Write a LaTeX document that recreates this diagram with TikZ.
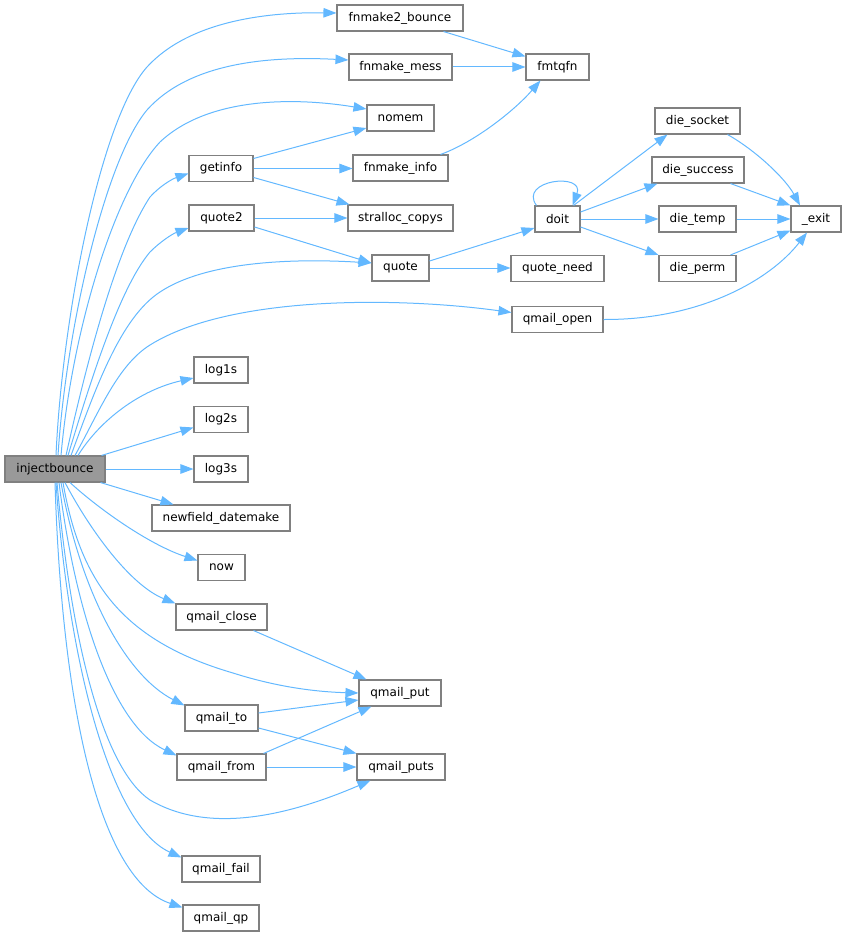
\documentclass[tikz,border=0pt]{standalone}
\usepackage{fontspec}
\setmainfont{DejaVu Sans}
\usetikzlibrary{arrows.meta}
\definecolor{edgeblue}{HTML}{63B8FF}
\definecolor{nodegray}{HTML}{808080}
\definecolor{rootgray}{HTML}{999999}
\tikzset{
  nd/.style={draw=nodegray, fill=white, line width=1.1pt, minimum height=26pt, inner sep=0pt, font=\fontsize{12}{14}\selectfont},
  rootnd/.style={nd, fill=rootgray},
  ed/.style={draw=edgeblue, line width=1pt, -{Triangle[length=13pt,width=9.5pt]}}
}
\begin{document}
\begin{tikzpicture}[x=1pt,y=-1pt]
\useasboundingbox (0,0) rectangle (847,936);
% nodes
\node[rootnd, minimum width=100pt] (inj) at (55,469) {injectbounce};
\node[nd, minimum width=126pt] (fm2) at (400,18) {fnmake2\_bounce};
\node[nd, minimum width=103pt] (fmm) at (400.5,67) {fnmake\_mess};
\node[nd, minimum width=63pt] (fmt) at (557.5,67) {fmtqfn};
\node[nd, minimum width=67pt] (nomem) at (400.5,118) {nomem};
\node[nd, minimum width=64pt] (getinfo) at (221,168.5) {getinfo};
\node[nd, minimum width=95pt] (fmi) at (400.5,168) {fnmake\_info};
\node[nd, minimum width=65pt] (quote2) at (221.5,218) {quote2};
\node[nd, minimum width=105pt] (sc) at (400.5,218) {stralloc\_copys};
\node[nd, minimum width=57pt] (quote) at (400.5,268) {quote};
\node[nd, minimum width=45pt] (doit) at (557.5,219) {doit};
\node[nd, minimum width=93pt] (qn) at (557.5,268.5) {quote\_need};
\node[nd, minimum width=91pt] (qo) at (557.5,319.5) {qmail\_open};
\node[nd, minimum width=85pt] (ds) at (697.5,121) {die\_socket};
\node[nd, minimum width=92pt] (dsu) at (698,170) {die\_success};
\node[nd, minimum width=77pt] (dt) at (697.5,219) {die\_temp};
\node[nd, minimum width=77pt] (dp) at (697.5,268.5) {die\_perm};
\node[nd, minimum width=50pt] (exit) at (816,219) {\_exit};
\node[nd, minimum width=54pt] (log1s) at (221,370) {log1s};
\node[nd, minimum width=54pt] (log2s) at (221,419.5) {log2s};
\node[nd, minimum width=54pt] (log3s) at (221,469) {log3s};
\node[nd, minimum width=138pt] (nfd) at (221,518) {newfield\_datemake};
\node[nd, minimum width=47pt] (now) at (221.5,567.5) {now};
\node[nd, minimum width=91pt] (qc) at (221.5,617) {qmail\_close};
\node[nd, minimum width=82pt] (qput) at (400,693) {qmail\_put};
\node[nd, minimum width=73pt] (qto) at (221.5,718) {qmail\_to};
\node[nd, minimum width=89pt] (qfrom) at (221.5,767) {qmail\_from};
\node[nd, minimum width=88pt] (qputs) at (401,767) {qmail\_puts};
\node[nd, minimum width=78pt] (qfail) at (221,869) {qmail\_fail};
\node[nd, minimum width=76pt] (qqp) at (221,918) {qmail\_qp};
% edges from injectbounce
\draw[ed] ([xshift=1pt]inj.north) .. controls (62,320) and (100,120) .. (147,67) .. controls (190,20) and (270,12) .. ([yshift=5pt]fm2.west);
\draw[ed] ([xshift=3pt]inj.north) .. controls (66,330) and (105,160) .. (147,110) .. controls (190,62) and (270,56) .. ([yshift=7pt]fmm.west);
\draw[ed] ([xshift=6pt]inj.north) .. controls (72,330) and (115,190) .. (160,142) .. controls (210,95) and (300,98) .. ([yshift=9pt]nomem.west);
\draw[ed] ([xshift=11pt]inj.north) .. controls (85,370) and (115,250) .. (150,197) .. controls (160,186) and (172,179) .. ([yshift=-5pt]getinfo.west);
\draw[ed] ([xshift=13pt]inj.north) .. controls (88,390) and (118,290) .. (150,252) .. controls (160,242) and (172,234) .. ([yshift=-10pt]quote2.west);
\draw[ed] ([xshift=16pt]inj.north) .. controls (95,390) and (120,318) .. (160,292) .. controls (205,262) and (290,258) .. ([yshift=5pt]quote.west);
\draw[ed] ([xshift=20pt]inj.north) .. controls (100,410) and (118,365) .. (150,345) .. controls (230,295) and (400,297) .. ([yshift=7pt]qo.west);
\draw[ed] ([xshift=23pt]inj.north) .. controls (100,420) and (140,390) .. ([yshift=-8pt]log1s.west);
\draw[ed] ([xshift=-4pt]inj.north east) -- ([yshift=-8pt]log2s.west);
\draw[ed] (inj.east) -- (log3s.west);
\draw[ed] ([xshift=-5pt]inj.south east) -- ([xshift=22pt]nfd.north west);
\draw[ed] ([xshift=15pt]inj.south) .. controls (100,510) and (150,545) .. ([yshift=7pt]now.west);
\draw[ed] ([xshift=10pt]inj.south) .. controls (90,530) and (130,585) .. (qc.north west);
\draw[ed] ([xshift=8pt]inj.south) .. controls (80,580) and (120,640) .. (233,673) .. controls (280,688) and (320,692) .. (qput.west);
\draw[ed] ([xshift=6pt]inj.south) .. controls (80,590) and (125,675) .. ([yshift=-1pt]qto.north west);
\draw[ed] ([xshift=4pt]inj.south) .. controls (75,610) and (112,725) .. ([yshift=-2pt]qfrom.north west);
\draw[ed] ([xshift=2pt]inj.south) .. controls (72,650) and (105,770) .. (150,800) .. controls (210,835) and (290,815) .. ([xshift=14pt]qputs.south west);
\draw[ed] ([xshift=1pt]inj.south) .. controls (68,660) and (110,825) .. ([yshift=-2pt]qfail.north west);
\draw[ed] (inj.south) .. controls (62,710) and (100,880) .. ([yshift=-3pt]qqp.north west);
% other edges
\draw[ed] ([xshift=-20pt]fm2.south east) -- ([yshift=-3pt]fmt.north west);
\draw[ed] (fmm.east) -- (fmt.west);
\draw[ed] ([xshift=-8pt]fmi.north east) .. controls (475,142) and (515,110) .. ([xshift=15pt]fmt.south west);
\draw[ed] ([yshift=10pt]getinfo.east) -- ([yshift=-10pt]nomem.west);
\draw[ed] (getinfo.east) -- (getinfo.east -| fmi.west);
\draw[ed] ([yshift=-9pt]getinfo.east) -- ([xshift=2pt]sc.north west);
\draw[ed] (quote2.east) -- (sc.west);
\draw[ed] ([yshift=-9pt]quote2.east) -- ([yshift=5pt]quote.west);
\draw[ed] ([yshift=7pt]quote.east) -- ([yshift=-9pt]doit.west);
\draw[ed] (quote.east) -- (quote.east -| qn.west);
\draw[ed] ([xshift=2pt]doit.north west) .. controls (518,180) and (585,172) .. ([xshift=-8pt]doit.north east);
\draw[ed] ([xshift=-7pt]doit.north east) -- ([xshift=13pt]ds.south west);
\draw[ed] ([yshift=7pt]doit.east) -- ([xshift=6pt]dsu.south west);
\draw[ed] (doit.east) -- (dt.west);
\draw[ed] ([yshift=-8pt]doit.east) -- (dp.north west);
\draw[ed] ([xshift=-13pt]ds.south east) .. controls (755,150) and (785,178) .. ([xshift=-16pt]exit.north);
\draw[ed] ([xshift=-14pt]dsu.south east) -- (exit.north west);
\draw[ed] (dt.east) -- (exit.west);
\draw[ed] ([xshift=-6pt]dp.north east) -- ([yshift=2pt]exit.south west);
\draw[ed] (qo.east) .. controls (700,320) and (770,280) .. ([xshift=-9pt]exit.south);
\draw[ed] ([xshift=-14pt]qc.south east) -- ([xshift=8pt]qput.north west);
\draw[ed] ([yshift=5pt]qto.east) -- ([yshift=-7pt]qput.west);
\draw[ed] ([yshift=-10pt]qto.east) -- (qputs.north west);
\draw[ed] ([xshift=-3pt]qfrom.north east) -- ([xshift=13pt]qput.south west);
\draw[ed] (qfrom.east) -- (qputs.west);
\end{tikzpicture}
\end{document}
